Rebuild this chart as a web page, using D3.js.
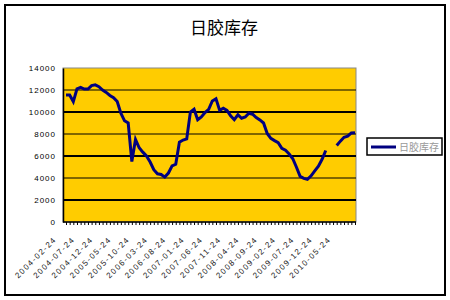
<!DOCTYPE html>
<html>
<head>
<meta charset="utf-8">
<script src="https://cdn.jsdelivr.net/npm/d3@7"></script>
<style>
  body { margin: 0; background: #fff; }
  svg { display: block; }
  text { font-family: "Liberation Sans", Arial, sans-serif; }
</style>
</head>
<body>
<svg id="chart" width="450" height="300"></svg>
<script>
// tick labels, one every 5 points
var dateLabels = ["2004-02-24", "2004-07-24", "2004-12-24", "2005-05-24", "2005-10-24",
    "2006-03-24", "2006-08-24", "2007-01-24", "2007-06-24", "2007-11-24",
    "2008-04-24", "2008-09-24", "2009-02-24", "2009-07-24", "2009-12-24", "2010-05-24"];

// 日胶库存 (tonnes), null = no data
var stock = [11550, 11550, 10950, 12100, 12230, 12080, 12080, 12400, 12470, 12300,
    12000, 11780, 11500, 11300, 10950, 9900, 9200, 9000, 5500, 7500,
    6750, 6350, 6000, 5450, 4750, 4380, 4320, 4080, 4450, 5100,
    5250, 7250, 7450, 7550, 10000, 10250, 9300, 9550, 9950, 10250,
    11000, 11200, 10150, 10350, 10150, 9650, 9300, 9750, 9430, 9550,
    9890, 9800, 9500, 9280, 9000, 8050, 7600, 7400, 7210, 6700,
    6520, 6180, 5750, 4980, 4150, 3970, 3880, 4200, 4650, 5080,
    5700, 6500, null, null, 6950, 7350, 7700, 7800, 8100, 8120];

var yTicks = [0, 2000, 4000, 6000, 8000, 10000, 12000, 14000];
var seriesName = "日胶库存";
var title = "日胶库存";

var svg = d3.select("#chart");
var plot = {left: 63, right: 356, top: 68, bottom: 222};

// outer frame
svg.append("rect")
    .attr("x", 5).attr("y", 5)
    .attr("width", 440).attr("height", 290)
    .attr("fill", "#fff")
    .attr("stroke", "#000")
    .attr("stroke-width", 2);

svg.append("text")
    .attr("x", 224).attr("y", 34)
    .attr("text-anchor", "middle")
    .style("font-family", "'Noto Sans CJK SC'")
    .style("font-size", "17px")
    .text(title);

var x = d3.scaleLinear()
    .domain([0, stock.length - 1])
    .range([plot.left + 3, plot.right - 1]);

var y = d3.scaleLinear()
    .domain([0, 14000])
    .range([plot.bottom, plot.top]);

// plot area
svg.append("rect")
    .attr("x", plot.left).attr("y", plot.top)
    .attr("width", plot.right - plot.left)
    .attr("height", plot.bottom - plot.top)
    .attr("fill", "#FFCC00")
    .attr("stroke", "#888")
    .attr("stroke-width", 1);

// gridlines
svg.append("g").selectAll("line")
    .data(yTicks.filter(function(d) { return d > 0 && d < 14000; }))
  .enter().append("line")
    .attr("x1", plot.left).attr("x2", plot.right)
    .attr("y1", function(d) { return y(d); })
    .attr("y2", function(d) { return y(d); })
    .attr("stroke", "#000")
    .attr("stroke-width", function(d) { return (d / 2000) % 2 == 1 ? 2.2 : 1; });

// y axis
var yAxis = d3.axisLeft(y).tickValues(yTicks).tickSize(0).tickPadding(7)
    .tickFormat(d3.format("d"));
var gy = svg.append("g")
    .attr("transform", "translate(" + plot.left + ",0)")
    .call(yAxis);
gy.select(".domain").attr("stroke", "#000").attr("stroke-width", 1.5);
gy.selectAll("text")
    .style("font-size", "8px")
    .style("letter-spacing", "1px")
    .attr("fill", "#000");

// x axis with a tick at every point
var xAxis = d3.axisBottom(x)
    .tickValues(d3.range(stock.length))
    .tickSize(3)
    .tickSizeOuter(0)
    .tickFormat("");
var gx = svg.append("g")
    .attr("transform", "translate(0," + plot.bottom + ")")
    .call(xAxis);
gx.select(".domain").attr("stroke", "#000").attr("stroke-width", 1.5)
    .attr("d", "M" + plot.left + ",0H" + plot.right);
gx.selectAll(".tick line").attr("stroke", "#000");

// date labels, rotated
svg.append("g").selectAll("text")
    .data(dateLabels)
  .enter().append("text")
    .attr("transform", function(d, i) {
        return "translate(" + (x(i * 5) - 9) + "," + (plot.bottom + 18) + ") rotate(-45)";
    })
    .attr("text-anchor", "end")
    .style("font-size", "8px")
    .style("letter-spacing", "1.4px")
    .attr("fill", "#222")
    .text(function(d) { return d; });

// series line
var line = d3.line()
    .defined(function(d) { return d != null; })
    .x(function(d, i) { return x(i); })
    .y(function(d) { return y(d); });

svg.append("path")
    .datum(stock)
    .attr("d", line)
    .attr("fill", "none")
    .attr("stroke", "#000080")
    .attr("stroke-width", 3)
    .attr("stroke-linejoin", "miter");

// legend
var legend = svg.append("g").attr("transform", "translate(367,138)");
legend.append("rect")
    .attr("width", 75).attr("height", 17)
    .attr("fill", "#fff")
    .attr("stroke", "#000")
    .attr("stroke-width", 1.5);
legend.append("line")
    .attr("x1", 4).attr("x2", 29)
    .attr("y1", 9).attr("y2", 9)
    .attr("stroke", "#000080")
    .attr("stroke-width", 3);
legend.append("text")
    .attr("x", 32).attr("y", 12.5)
    .style("font-family", "'Noto Sans CJK SC'")
    .style("font-size", "10px")
    .attr("fill", "#999")
    .text(seriesName);
</script>
</body>
</html>
